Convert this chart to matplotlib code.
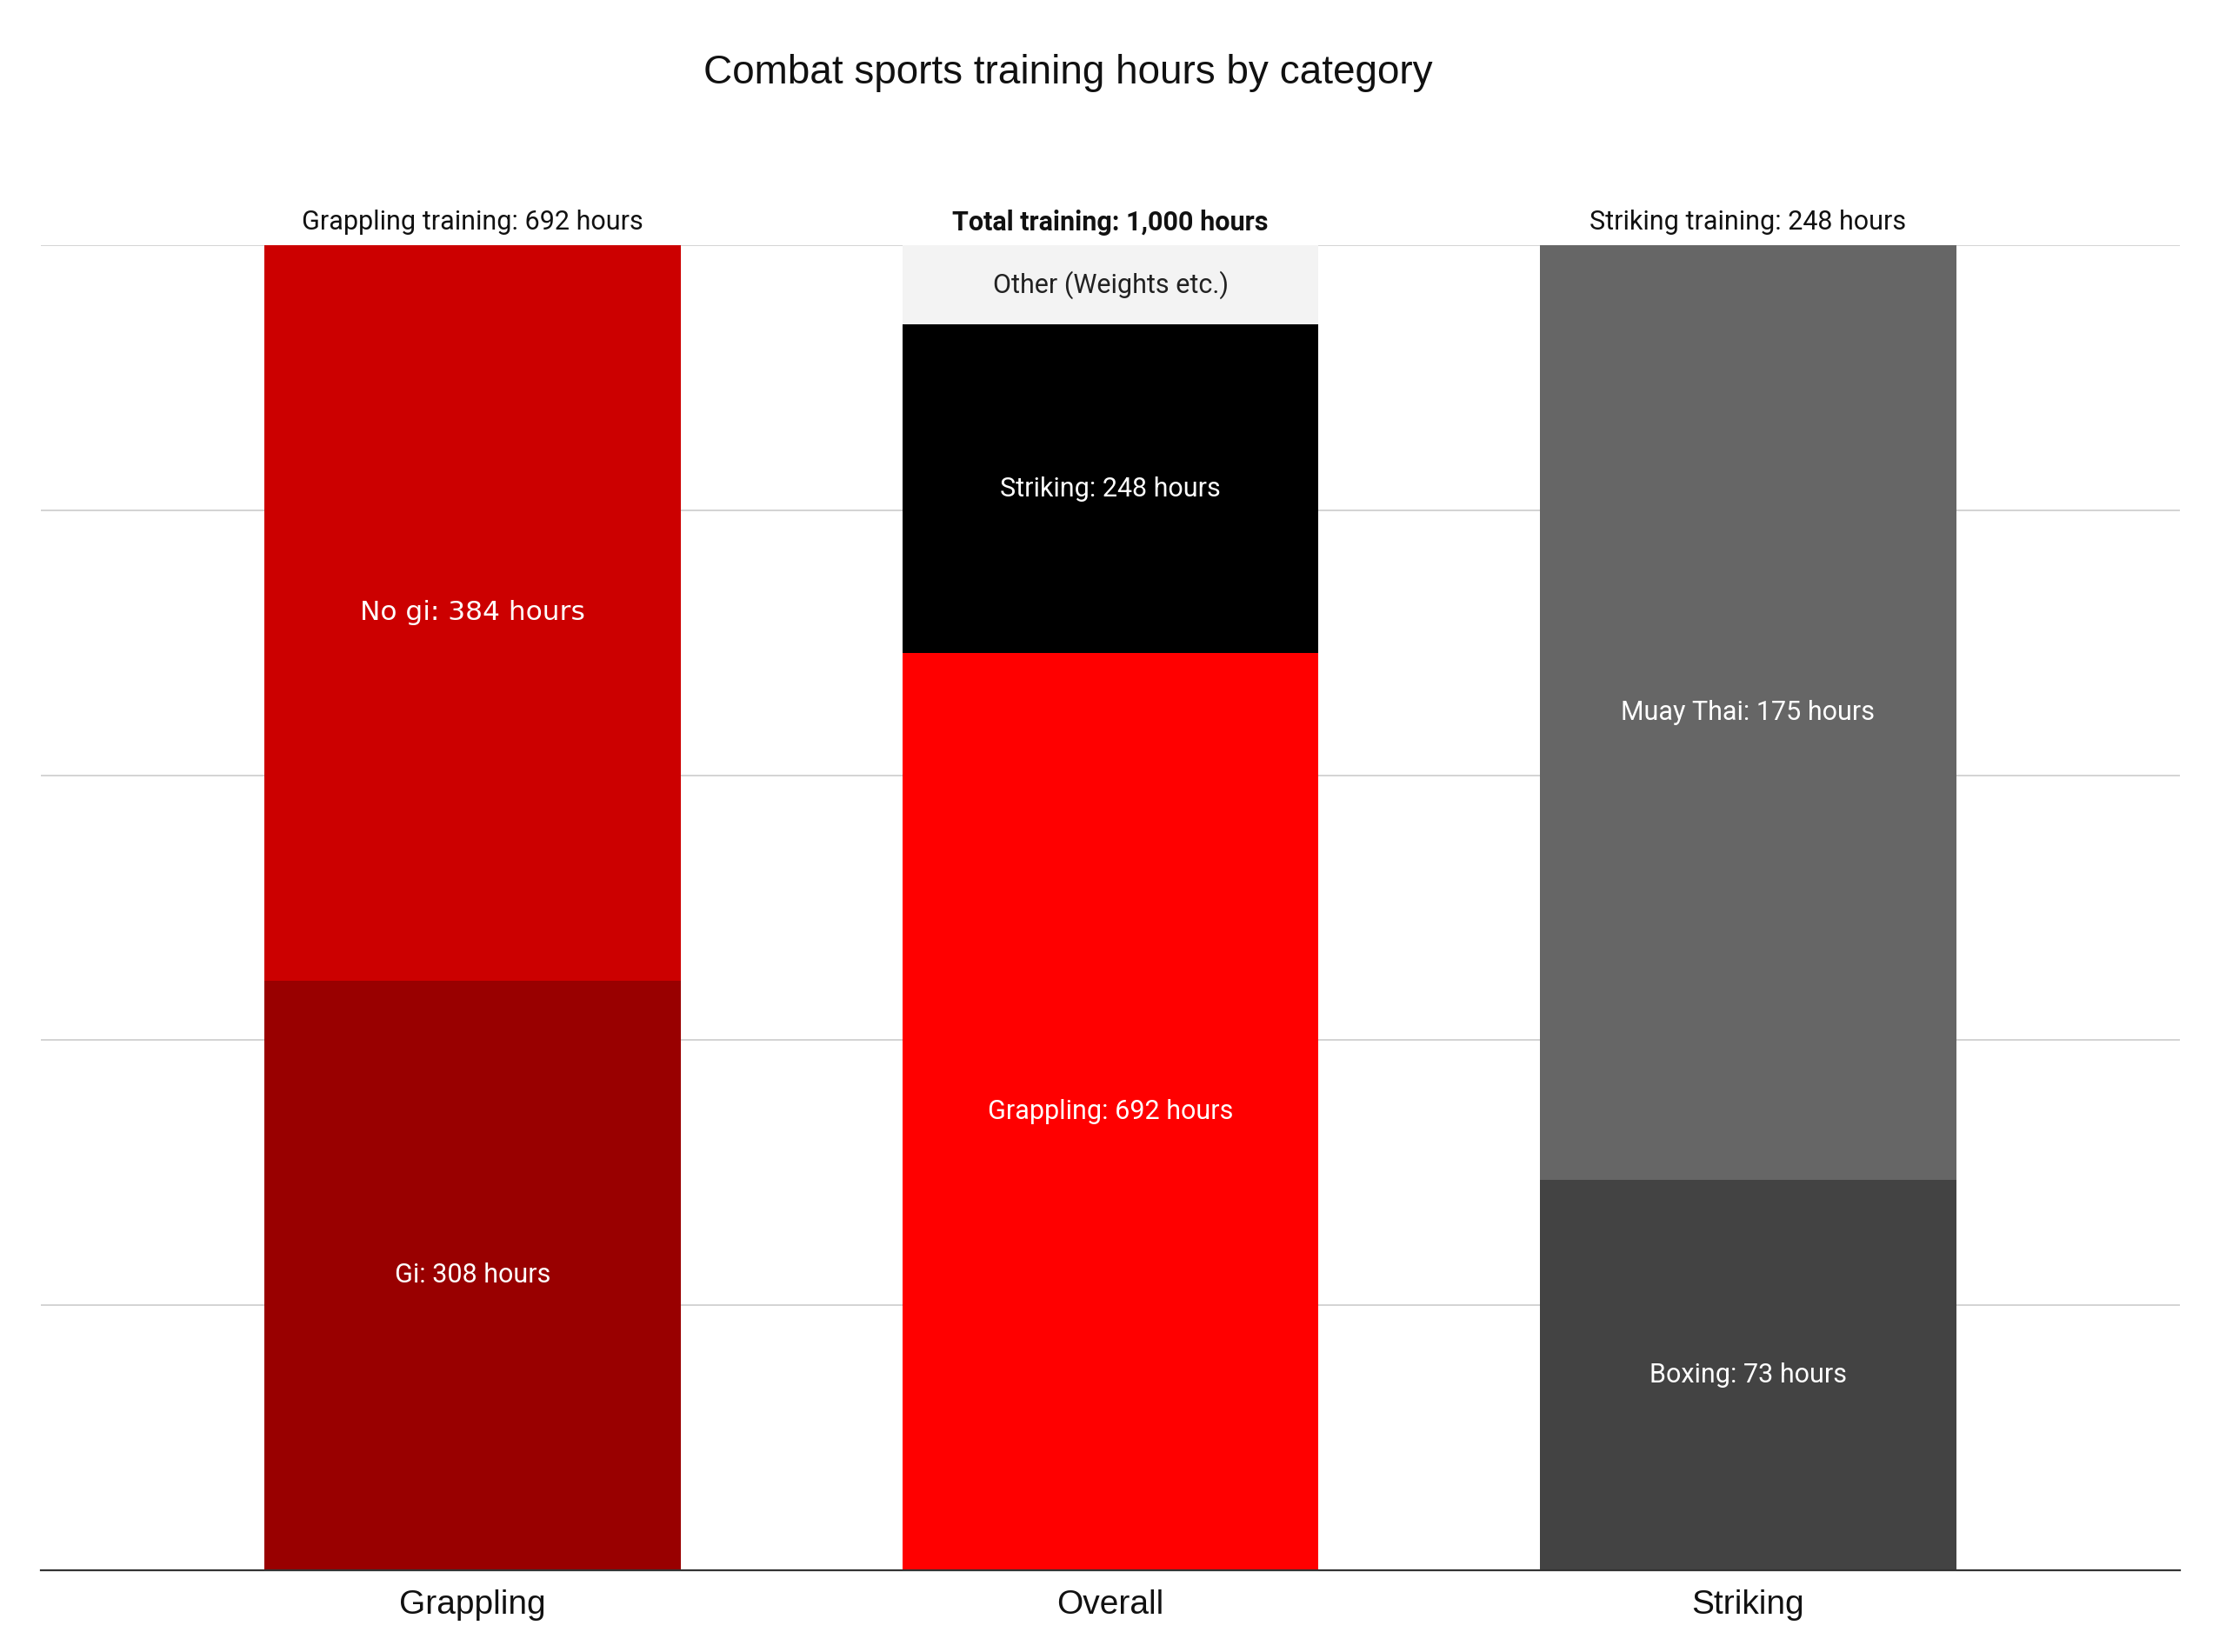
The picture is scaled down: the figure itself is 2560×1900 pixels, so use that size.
import matplotlib
matplotlib.use("Agg")
import matplotlib.pyplot as plt

# ---- data ----
categories = ["Grappling", "Overall", "Striking"]

grappling_segments = ["Gi", "No gi"]
grappling_hours = [308, 384]

overall_segments = ["Grappling", "Striking", "Other (Weights etc.)"]
overall_hours = [692, 248, 60]

striking_segments = ["Boxing", "Muay Thai"]
striking_hours = [73, 175]

top_labels = ["Grappling training: 692 hours", "Total training: 1,000 hours",
              "Striking training: 248 hours"]

# ---- styles ----
grappling_colors = ["#990000", "#cc0000"]
overall_colors = ["#ff0000", "#000000", "#f3f3f3"]
striking_colors = ["#434343", "#666666"]

W, H = 2560, 1900
DPI = 100
fig = plt.figure(figsize=(W / DPI, H / DPI), dpi=DPI)
ax = fig.add_axes([47 / W, 1 - 1806 / H, (2507 - 47) / W, (1806 - 282) / H])

bar_width = 0.653
groups = [
    (grappling_segments, grappling_hours, grappling_colors),
    (overall_segments, overall_hours, overall_colors),
    (striking_segments, striking_hours, striking_colors),
]

for i, (segs, hours, cols) in enumerate(groups):
    total = sum(hours)
    bottom = 0.0
    for name, h, c in zip(segs, hours, cols):
        pct = 100.0 * h / total
        ax.bar(i, pct, bottom=bottom, width=bar_width, color=c, linewidth=0, zorder=2)
        if name.startswith("Other"):
            label = name
            tcol = "#222222"
        else:
            label = f"{name}: {h} hours"
            tcol = "white"
        family = "DejaVu Sans" if name == "No gi" else "Roboto"
        ax.text(i, bottom + pct / 2, label, ha="center", va="center",
                color=tcol, fontsize=22.5 if name == "No gi" else 22,
                family=family, zorder=3)
        bottom += pct
    ax.annotate(top_labels[i], xy=(i, 100), xytext=(0, 19), textcoords="offset points",
                ha="center", va="center", fontsize=22, family="Roboto",
                fontweight="bold" if i == 1 else "normal", color="#111111",
                annotation_clip=False)

ax.set_xlim(-0.677, 2.677)
ax.set_ylim(0, 100)
ax.set_yticks([0, 20, 40, 60, 80, 100])
ax.set_yticklabels([])
ax.tick_params(axis="y", length=0)
ax.grid(axis="y", color="#cccccc", linewidth=1.2, zorder=0)
ax.set_axisbelow(True)
ax.set_xticks(range(len(categories)))
ax.set_xticklabels(categories, fontsize=28, family="Liberation Sans", color="#111111")
ax.tick_params(axis="x", length=0, pad=16)
for s in ["top", "right", "left"]:
    ax.spines[s].set_visible(False)
ax.spines["bottom"].set_color("#333333")
ax.spines["bottom"].set_linewidth(1.6)
ax.spines["bottom"].set_zorder(4)

fig.text(1228 / W, 1 - 84 / H, "Combat sports training hours by category",
         ha="center", va="center", fontsize=33, family="Liberation Sans", color="#111111")

fig.savefig("out.png", dpi=DPI, facecolor="white")
